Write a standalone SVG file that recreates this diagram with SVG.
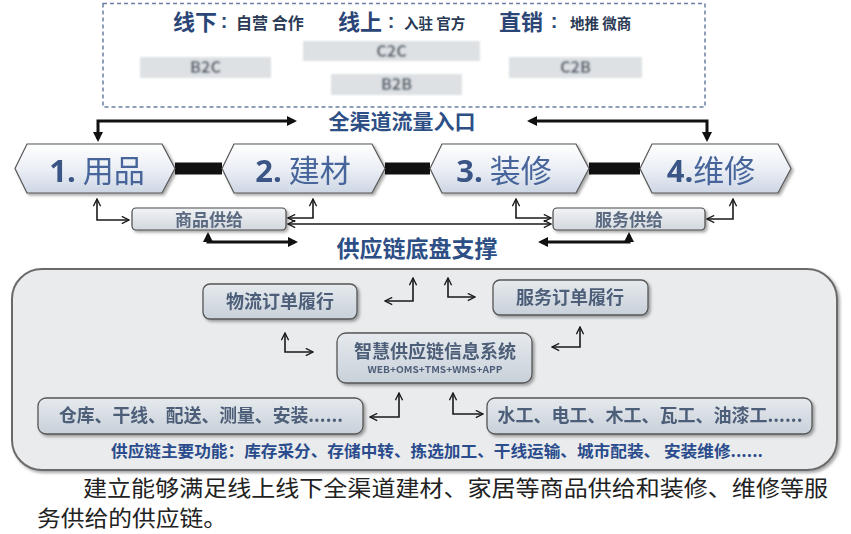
<svg xmlns="http://www.w3.org/2000/svg" width="851" height="534" viewBox="0 0 851 534">
<style>
text{font-family:"Noto Sans CJK SC","Noto Sans",sans-serif}
.hdr{font-size:22px;font-weight:bold;fill:#2b4577}
.sub{font-weight:bold;fill:#2a3a55}
.col{font-family:"Liberation Sans",sans-serif;font-size:20px;font-weight:bold;fill:#2b4577;text-anchor:middle}
.gb{fill:#dee1e4}
.gt{font-size:16px;font-weight:bold;fill:#4f5a68;text-anchor:middle}
.ttl{font-weight:bold;fill:#2d4f86;text-anchor:middle}
.hex{fill:url(#gHex);stroke:#555;stroke-width:1.2}
.hn{font-family:"Open Sans","Noto Sans",sans-serif;font-weight:bold;fill:#3b5686}
.hc{fill:#46659a}
.sb{fill:url(#gSmall);stroke:#4a4a4a;stroke-width:1.2}
.st{font-size:17px;font-weight:bold;fill:#5a6a80;text-anchor:middle}
.ib{fill:url(#gIn);stroke:#555;stroke-width:1.3}
.it{font-size:18px;font-weight:bold;fill:#4d5e78;text-anchor:middle}
.thin{fill:none;stroke:#1a1a1a;stroke-width:1.6;marker-start:url(#oh);marker-end:url(#oh)}
.thick{fill:none;stroke:#111;stroke-width:3;marker-start:url(#fh);marker-end:url(#fh)}
</style>
<defs>
<linearGradient id="gHex" x1="0" y1="0" x2="0" y2="1">
<stop offset="0" stop-color="#ffffff"/><stop offset="0.55" stop-color="#e9edf4"/><stop offset="1" stop-color="#cdd6e4"/>
</linearGradient>
<linearGradient id="gSmall" x1="0" y1="0" x2="0" y2="1">
<stop offset="0" stop-color="#f1f3f5"/><stop offset="1" stop-color="#d3d8de"/>
</linearGradient>
<linearGradient id="gIn" x1="0" y1="0" x2="0" y2="1">
<stop offset="0" stop-color="#e6eaee"/><stop offset="1" stop-color="#c8d0d9"/>
</linearGradient>
<filter id="sh" x="-10%" y="-20%" width="130%" height="150%">
<feDropShadow dx="2" dy="2" stdDeviation="1.5" flood-color="#000" flood-opacity="0.35"/>
</filter>
<filter id="bl" x="-10%" y="-30%" width="120%" height="160%">
<feGaussianBlur stdDeviation="0.8"/>
</filter>
<marker id="fh" viewBox="0 0 10 10" refX="7" refY="5" markerWidth="10" markerHeight="10" markerUnits="userSpaceOnUse" orient="auto-start-reverse">
<path d="M0,0 L10,5 L0,10 z" fill="#111"/>
</marker>
<marker id="oh" viewBox="0 0 10 10" refX="9" refY="5" markerWidth="9" markerHeight="9" markerUnits="userSpaceOnUse" orient="auto-start-reverse">
<path d="M1,1 L9,5 L1,9" fill="none" stroke="#1a1a1a" stroke-width="1.5"/>
</marker>
</defs>
<rect width="851" height="534" fill="#ffffff"/>

<g id="channels">
<rect x="103" y="3.5" width="602" height="103.5" fill="none" stroke="#6a7ea3" stroke-width="1.5" stroke-dasharray="4 3"/>
<text class="hdr" x="173" y="30">线下</text>
<text class="col" x="224" y="28">:</text>
<text class="sub" x="236" y="29" font-size="16">自营 合作</text>
<text class="hdr" x="338" y="30">线上</text>
<text class="col" x="391" y="28">:</text>
<text class="sub" x="404" y="29" font-size="14.5">入驻 官方</text>
<text class="hdr" x="499" y="30">直销</text>
<text class="col" x="554" y="28">:</text>
<text class="sub" x="570" y="29" font-size="14.5">地推 微商</text>
<g filter="url(#bl)">
<rect class="gb" x="140" y="57" width="131" height="21"/>
<rect class="gb" x="303" y="41" width="177" height="20"/>
<rect class="gb" x="331" y="74" width="131" height="21"/>
<rect class="gb" x="509" y="57" width="133" height="21"/>
<text class="gt" x="205.5" y="73">B2C</text>
<text class="gt" x="391.5" y="56.5">C2C</text>
<text class="gt" x="396.5" y="90">B2B</text>
<text class="gt" x="575.5" y="73">C2B</text>
</g>
</g>

<g id="titles">
<text class="ttl" x="402" y="129" font-size="21">全渠道流量入口</text>
<text class="ttl" x="417" y="257" font-size="23">供应链底盘支撑</text>
</g>

<g id="platform">
<rect x="12" y="269" width="825" height="201" rx="30" fill="#e9ebed" stroke="#6b6b6b" stroke-width="2" filter="url(#sh)"/>
<text x="437" y="457" font-size="16" font-weight="bold" fill="#2a4b8c" text-anchor="middle" textLength="652" lengthAdjust="spacingAndGlyphs">供应链主要功能：库存采分、存储中转、拣选加工、干线运输、城市配装、 安装维修......</text>
</g>

<g id="connectors">
<rect x="175" y="162.5" width="47" height="12" fill="#111"/>
<rect x="385" y="162.5" width="45" height="12" fill="#111"/>
<rect x="589" y="162.5" width="51" height="12" fill="#111"/>
<path class="thick" d="M98,139 V121 H294"/>
<path class="thick" d="M530,121 H707 V139"/>
<path class="thick" d="M208,235 V242 H295"/>
<path class="thick" d="M629,235 V242 H541"/>
<path class="thin" d="M97,199 V220 H129"/>
<path class="thin" d="M288,218 H313 V199"/>
<path class="thin" d="M288,224 H551"/>
<path class="thin" d="M516,199 V218 H551"/>
<path class="thin" d="M707,219 H733 V199"/>
<path class="thin" d="M385,301 H413 V278"/>
<path class="thin" d="M448,278 V297 H475"/>
<path class="thin" d="M285,333 V352 H313"/>
<path class="thin" d="M552,347 H580 V327"/>
<path class="thin" d="M370,417 H399 V393"/>
<path class="thin" d="M453,393 V414 H483"/>
</g>

<g id="n1" filter="url(#sh)">
<polygon class="hex" points="15,168.5 27,144 162,144 175,168.5 162,193 27,193"/>
<text x="97" y="182" font-size="31" text-anchor="middle"><tspan class="hn">1.</tspan><tspan class="hc"> 用品</tspan></text>
</g>
<g id="n2" filter="url(#sh)">
<polygon class="hex" points="222,168.5 234,144 372,144 385,168.5 372,193 234,193"/>
<text x="303" y="182" font-size="31" text-anchor="middle"><tspan class="hn">2.</tspan><tspan class="hc"> 建材</tspan></text>
</g>
<g id="n3" filter="url(#sh)">
<polygon class="hex" points="430,168.5 442,144 576,144 589,168.5 576,193 442,193"/>
<text x="504" y="182" font-size="31" text-anchor="middle"><tspan class="hn">3.</tspan><tspan class="hc"> 装修</tspan></text>
</g>
<g id="n4" filter="url(#sh)">
<polygon class="hex" points="640,168.5 652,144 778,144 791,168.5 778,193 652,193"/>
<text x="711" y="182" font-size="31" text-anchor="middle"><tspan class="hn">4.</tspan><tspan class="hc">维修</tspan></text>
</g>

<g id="goods" filter="url(#sh)">
<rect class="sb" x="132" y="208" width="154" height="22" rx="4"/>
<text class="st" x="209" y="225.5">商品供给</text>
</g>
<g id="service" filter="url(#sh)">
<rect class="sb" x="553" y="208" width="152" height="22" rx="4"/>
<text class="st" x="629" y="225.5">服务供给</text>
</g>

<g id="logistics" filter="url(#sh)">
<rect class="ib" x="203" y="284" width="154" height="35" rx="7"/>
<text class="it" x="280" y="308">物流订单履行</text>
</g>
<g id="serviceorder" filter="url(#sh)">
<rect class="ib" x="493" y="280" width="155" height="35" rx="7"/>
<text class="it" x="570" y="304">服务订单履行</text>
</g>
<g id="system" filter="url(#sh)">
<rect class="ib" x="337" y="333" width="195" height="50" rx="9"/>
<text class="it" x="435" y="358">智慧供应链信息系统</text>
<text x="435" y="373" font-size="9.5" font-weight="bold" fill="#4d5e78" text-anchor="middle" textLength="135" lengthAdjust="spacingAndGlyphs">WEB+OMS+TMS+WMS+APP</text>
</g>
<g id="warehouse" filter="url(#sh)">
<rect class="ib" x="38" y="398" width="325" height="36" rx="8"/>
<text class="it" x="201" y="422" textLength="284" lengthAdjust="spacingAndGlyphs">仓库、干线、配送、测量、安装......</text>
</g>
<g id="workers" filter="url(#sh)">
<rect class="ib" x="487" y="398" width="325" height="36" rx="8"/>
<text class="it" x="650" y="422" textLength="305" lengthAdjust="spacingAndGlyphs">水工、电工、木工、瓦工、油漆工......</text>
</g>

<g id="caption">
<text x="83" y="496" font-size="22" fill="#222" textLength="745" lengthAdjust="spacingAndGlyphs">建立能够满足线上线下全渠道建材、家居等商品供给和装修、维修等服</text>
<text x="37" y="526" font-size="22" fill="#222" textLength="190" lengthAdjust="spacingAndGlyphs">务供给的供应链。</text>
</g>
</svg>
